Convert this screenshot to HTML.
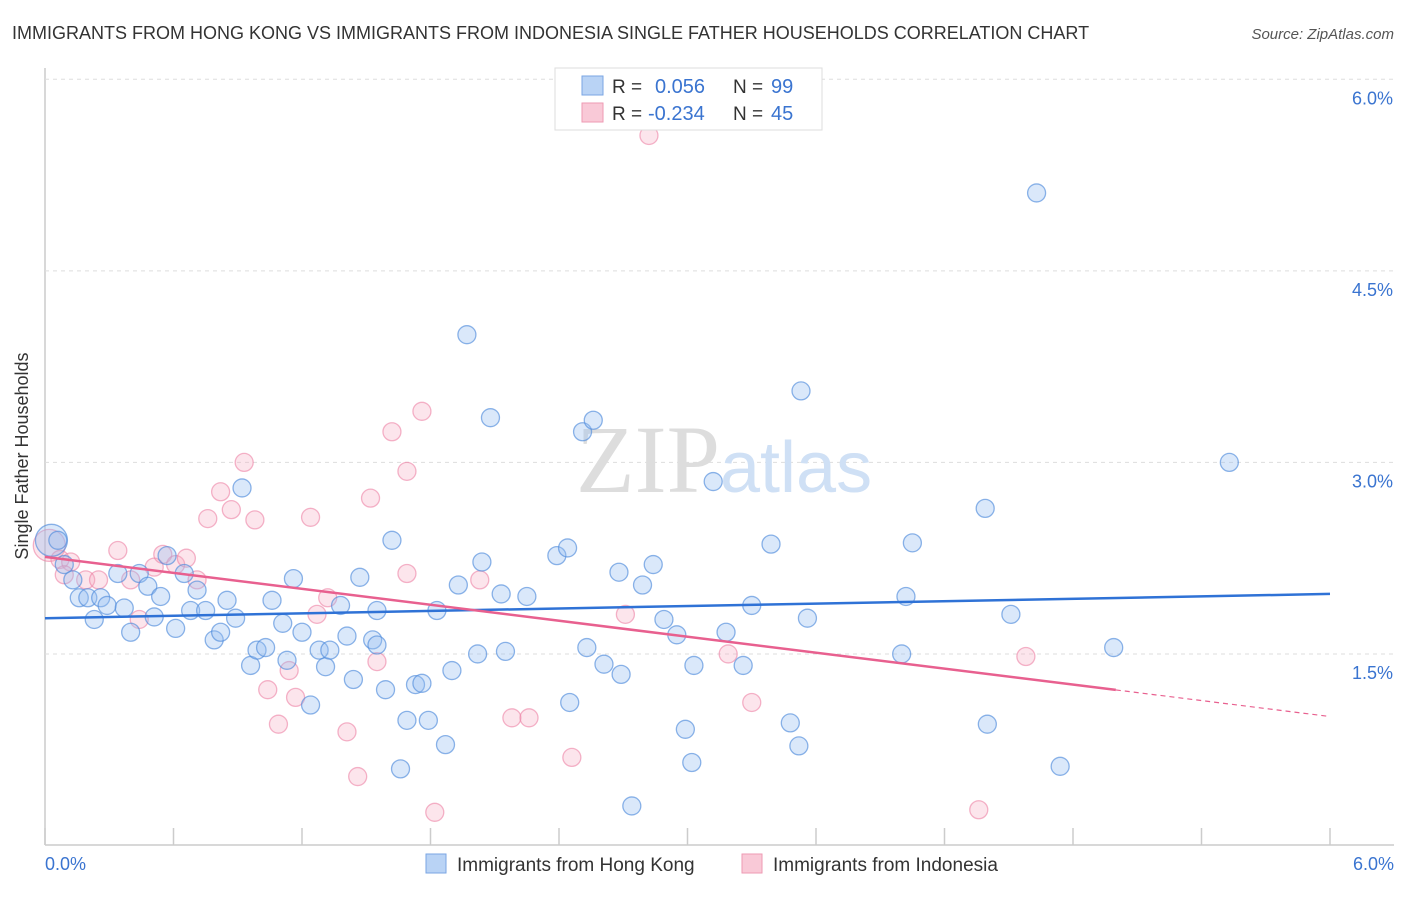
<!DOCTYPE html>
<html><head><meta charset="utf-8"><style>
body{margin:0;background:#fff;font-family:"Liberation Sans",sans-serif}
svg text{font-family:"Liberation Sans",sans-serif}
</style></head><body>
<svg id="chart" width="1406" height="892" xmlns="http://www.w3.org/2000/svg">
<text x="12" y="39" font-size="18" fill="#333">IMMIGRANTS FROM HONG KONG VS IMMIGRANTS FROM INDONESIA SINGLE FATHER HOUSEHOLDS CORRELATION CHART</text>
<text x="1394" y="39" font-size="15" fill="#555" text-anchor="end" font-style="italic">Source: ZipAtlas.com</text>
<g id="grid"></g>
<text x="720" y="492" font-size="96" fill="#ddd" text-anchor="end" font-family="Liberation Serif" style="font-family:'Liberation Serif',serif">ZIP</text>
<text x="720" y="492" font-size="72" fill="#cfe0f5">atlas</text>
<g id="points"></g>
<g id="lines"></g>
<text x="28" y="456" font-size="18" fill="#333" text-anchor="middle" transform="rotate(-90 28 456)">Single Father Households</text>
<text x="45" y="870" font-size="18" fill="#3a74d0">0.0%</text>
<text x="1394" y="870" font-size="18" fill="#3a74d0" text-anchor="end">6.0%</text>
<g>
<rect x="555" y="68" width="267" height="62" fill="#fff" stroke="#ddd"/>
<rect x="582" y="76" width="21" height="19" fill="#b9d3f5" stroke="#7aa6e3"/>
<rect x="582" y="103" width="21" height="19" fill="#f9c9d7" stroke="#ee9ab3"/>
<text x="612" y="93" font-size="19" fill="#333">R = </text><text x="655" y="93" font-size="20" fill="#3a74d0">0.056</text>
<text x="733" y="93" font-size="19" fill="#333">N = </text><text x="771" y="93" font-size="20" fill="#3a74d0">99</text>
<text x="612" y="120" font-size="19" fill="#333">R = </text><text x="648" y="120" font-size="20" fill="#3a74d0">-0.234</text>
<text x="733" y="120" font-size="19" fill="#333">N = </text><text x="771" y="120" font-size="20" fill="#3a74d0">45</text>
</g>
<g>
<rect x="426" y="854" width="20" height="19" fill="#b9d3f5" stroke="#7aa6e3"/>
<text x="457" y="871" font-size="19" fill="#333">Immigrants from Hong Kong</text>
<rect x="742" y="854" width="20" height="19" fill="#f9c9d7" stroke="#ee9ab3"/>
<text x="773" y="871" font-size="19" fill="#333">Immigrants from Indonesia</text>
</g>
</svg>
<script>
const yTicks=[1.5,3.0,4.5,6.0];
const yTickLabels=["1.5%","3.0%","4.5%","6.0%"];
const xTicks=[0,0.6,1.2,1.8,2.4,3.0,3.6,4.2,4.8,5.4,6.0];
const hkX=[.03,.06,.09,.13,.16,.20,.23,.26,.29,.34,.37,.40,.44,.48,.51,.54,.57,.61,.65,.68,.71,.75,.79,.82,.85,.89,.92,.96,.99,1.03,1.06,1.11,1.13,1.16,1.20,1.24,1.28,1.31,1.33,1.38,1.41,1.44,1.47,1.53,1.55,1.55,1.59,1.62,1.66,1.69,1.73,1.76,1.79,1.83,1.87,1.90,1.93,1.97,2.02,2.04,2.08,2.13,2.15,2.25,2.39,2.44,2.45,2.51,2.53,2.56,2.61,2.68,2.69,2.74,2.79,2.84,2.89,2.95,2.99,3.02,3.03,3.12,3.18,3.26,3.30,3.39,3.48,3.52,3.53,3.56,4.00,4.02,4.05,4.39,4.40,4.51,4.63,4.74,4.99,5.53];
const hkY=[2.39,2.39,2.20,2.08,1.94,1.94,1.77,1.94,1.88,2.13,1.86,1.67,2.13,2.03,1.79,1.95,2.27,1.70,2.13,1.84,2.00,1.84,1.61,1.67,1.92,1.78,2.80,1.41,1.53,1.55,1.92,1.74,1.45,2.09,1.67,1.10,1.53,1.40,1.53,1.88,1.64,1.30,2.10,1.61,1.57,1.84,1.22,2.39,0.60,0.98,1.26,1.27,0.98,1.84,0.79,1.37,2.04,4.00,1.50,2.22,3.35,1.97,1.52,1.95,2.27,2.33,1.12,3.24,1.55,3.33,1.42,2.14,1.34,0.31,2.04,2.20,1.77,1.65,0.91,0.65,1.41,2.85,1.67,1.41,1.88,2.36,0.96,0.78,3.56,1.78,1.50,1.95,2.37,2.64,0.95,1.81,5.11,0.62,1.55,3.00];
const idX=[.02,.07,.12,.09,.19,.25,.34,.40,.44,.51,.55,.61,.66,.71,.76,.82,.87,.93,.98,1.04,1.09,1.14,1.17,1.24,1.27,1.32,1.41,1.46,1.52,1.55,1.62,1.69,1.69,1.76,1.82,2.03,2.18,2.26,2.46,2.71,2.82,3.19,3.30,4.36,4.58];
const idY=[2.35,2.24,2.22,2.12,2.08,2.08,2.31,2.08,1.77,2.18,2.28,2.20,2.25,2.08,2.56,2.77,2.63,3.00,2.55,1.22,0.95,1.37,1.16,2.57,1.81,1.94,0.89,0.54,2.72,1.44,3.24,2.13,2.93,3.40,0.26,2.08,1.00,1.00,0.69,1.81,5.56,1.50,1.12,0.28,1.48];
const hkLine=[1.78,1.97];
const idLine=[2.26,1.01];
const idSolidEnd=5.0;
const NS="http://www.w3.org/2000/svg";
const X0=45,X1=1330,Y0=845.5,PXY=127.7;
function sx(v){return X0+(X1-X0)*v/6;}
function sy(v){return Y0-v*PXY;}
function mk(t,a,p){const e=document.createElementNS(NS,t);for(const k in a)e.setAttribute(k,a[k]);p.appendChild(e);return e;}
const grid=document.getElementById('grid');
const ax=mk('line',{x1:X0,y1:68,x2:X0,y2:845,stroke:'#ccc','stroke-width':1.5},grid);


const bx=mk('line',{x1:X0,y1:845,x2:1394,y2:845,stroke:'#ccc','stroke-width':1.5},grid);


yTicks.forEach((v,i)=>{
 const g=mk('line',{x1:X0,y1:sy(v),x2:1394,y2:sy(v),stroke:'#ddd','stroke-dasharray':'4,4'},grid);
 
 
 const t=mk('text',{x:1393,y:sy(v)+25,'font-size':18,fill:'#3a74d0','text-anchor':'end'},grid);
 t.textContent=yTickLabels[i];
 
 
});
xTicks.forEach(v=>{
 const l=mk('line',{x1:sx(v),y1:828,x2:sx(v),y2:845,stroke:'#ccc','stroke-width':1.5},grid);
 
 
});
const pts=document.getElementById('points');
idX.forEach((v,i)=>{
 const c=mk('circle',{cx:sx(v),cy:sy(idY[i]),r:i==0?16:9,fill:'rgba(246,168,192,0.3)',stroke:'rgba(236,130,165,0.6)','stroke-width':1.3},pts);
 
 
});
hkX.forEach((v,i)=>{
 const c=mk('circle',{cx:sx(v),cy:sy(hkY[i]),r:i==0?16:9,fill:'rgba(150,190,240,0.35)',stroke:'rgba(80,140,220,0.65)','stroke-width':1.3},pts);
 
 
});
const lines=document.getElementById('lines');
const hl=mk('line',{x1:sx(0),y1:sy(hkLine[0]),x2:sx(6),y2:sy(hkLine[1]),stroke:'#2f72d6','stroke-width':2.5},lines);


const idAt=x=>idLine[0]+(idLine[1]-idLine[0])*x/6;
const il=mk('line',{x1:sx(0),y1:sy(idLine[0]),x2:sx(idSolidEnd),y2:sy(idAt(idSolidEnd)),stroke:'#e8608f','stroke-width':2.5},lines);


const id2=mk('line',{x1:sx(idSolidEnd),y1:sy(idAt(idSolidEnd)),x2:sx(6),y2:sy(idLine[1]),stroke:'#e8608f','stroke-width':1.2,'stroke-dasharray':'5,4'},lines);


</script>
</body></html>
